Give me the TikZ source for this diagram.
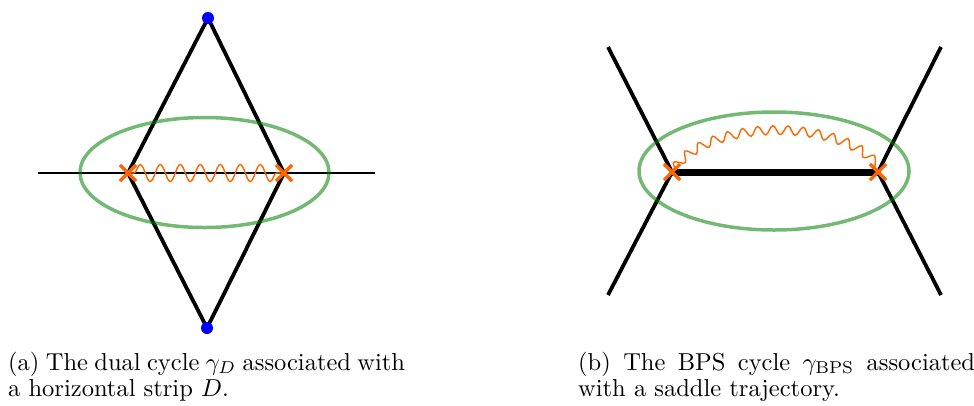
\documentclass[tikz,border=0pt]{standalone}
\usetikzlibrary{decorations.pathmorphing,shapes.misc,shapes.geometric}
\definecolor{ornge}{RGB}{255,102,0}
\definecolor{grn}{RGB}{0,128,0}
\begin{document}
\begin{tikzpicture}[x=1pt,y=-1pt,
  wall/.style={line width=3.8pt,black},
  thinwall/.style={line width=2.6pt,black},
  ring/.style={draw=grn,draw opacity=0.55,line width=3.5pt},
  branch/.style={cross out,draw=ornge,line width=3.2pt,minimum size=13pt,inner sep=0pt},
  zero/.style={circle,fill=blue,inner sep=0pt,minimum size=12pt},
  cut/.style={ornge,line width=1.4pt,decorate},
  captxt/.style={inner sep=0pt,anchor=base west}]
\useasboundingbox (0,0) rectangle (974,405);
% ---------- (a)
\coordinate (aW) at (38,173);
\coordinate (aE) at (375,173);
\coordinate (aL) at (128,173);
\coordinate (aR) at (284,173);
\draw[thinwall] (aW) -- (aE);
\draw[wall] (208,18) coordinate (aTc) -- (aL) -- (207,328) coordinate (aBc) -- (aR) -- cycle;
\node[zero] (aT) at (aTc) {};
\node[zero] (aB) at (aBc) {};
\node[ring,ellipse,minimum width=249pt,minimum height=110pt] (aE1) at (204.5,172.5) {};
\draw[cut,decoration={snake,segment length=20pt,amplitude=8.5pt,pre length=6pt,post length=6pt}] (aL) -- (aR);
\node[branch] (aX1) at (aL) {};
\node[branch] (aX2) at (aR) {};
% ---------- (b)
\coordinate (bL) at (672,172);
\coordinate (bR) at (878,172);
\coordinate (bTL) at (608,47);
\coordinate (bBL) at (608,295);
\coordinate (bTR) at (941,47);
\coordinate (bBR) at (941,295);
\draw[wall] (bTL) -- (bL) -- (bBL);
\draw[wall] (bTR) -- (bR) -- (bBR);
\draw[line width=7pt] (bL) -- (bR);
\node[ring,ellipse,minimum width=270pt,minimum height=118pt] (bE1) at (774,171) {};
\draw[cut,decoration={snake,segment length=15pt,amplitude=4.5pt,pre length=4pt,post length=4pt}] (bL) .. controls (705,120) and (845,120) .. (bR);
\node[branch] (bX1) at (bL) {};
\node[branch] (bX2) at (bR) {};
% ---------- captions
\node[captxt] (capa) at (8,370) {\scalebox{2.45}{\parbox[t]{162pt}{\fontsize{10}{11}\selectfont (a) The dual cycle $\gamma_D$ associated with\linebreak a horizontal strip $D$.}}};
\node[captxt] (capb) at (578,370) {\scalebox{2.45}{\parbox[t]{162pt}{\fontsize{10}{11}\selectfont (b) The BPS cycle $\gamma_{\mathrm{BPS}}$ associated\linebreak with a saddle trajectory.}}};
\end{tikzpicture}
\end{document}
